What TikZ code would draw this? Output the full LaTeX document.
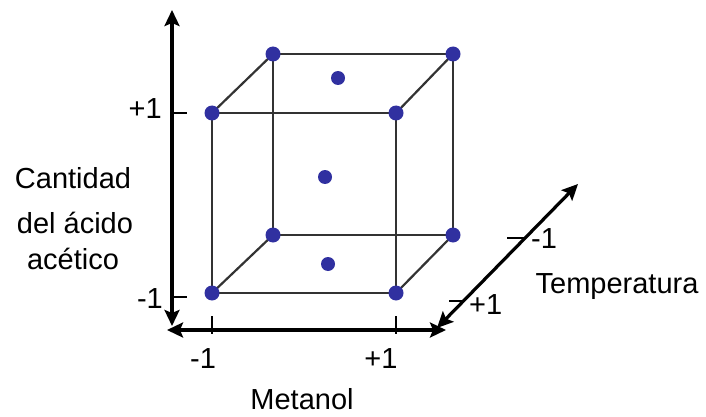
\documentclass[tikz,border=0pt]{standalone}
\usepackage{fontspec}
\setmainfont{Liberation Sans}
\usetikzlibrary{arrows.meta}
\definecolor{dotblue}{RGB}{48,48,160}
\begin{document}
\begin{tikzpicture}[x=1pt,y=-1pt,
  axis/.style={line width=3.2pt, {Stealth[length=16pt,width=15pt,inset=3pt]}-{Stealth[length=16pt,width=15pt,inset=3pt]}},
  tickmark/.style={line width=2.8pt},
  edge/.style={line width=2.2pt, draw=black!80},
  vdot/.style={circle, fill=dotblue, inner sep=0pt, minimum size=15pt},
  cdot/.style={circle, fill=dotblue, inner sep=0pt, minimum size=14pt},
  lbl/.style={font=\fontsize{29}{34}\selectfont, inner sep=0pt}
]
\useasboundingbox (0,0) rectangle (706,417);
% cube vertices
\coordinate (A1) at (212,113);
\coordinate (A2) at (396,113);
\coordinate (A3) at (212,293);
\coordinate (A4) at (396,293);
\coordinate (B1) at (273,54);
\coordinate (B2) at (453,54);
\coordinate (B3) at (273,235);
\coordinate (B4) at (453,235);
% cube edges
\draw[edge] (A1) -- (A2) -- (A4) -- (A3) -- cycle;
\draw[edge] (B1) -- (B2) -- (B4) -- (B3) -- cycle;
\draw[edge] (A1) -- (B1);
\draw[edge] (A2) -- (B2);
\draw[edge] (A3) -- (B3);
\draw[edge] (A4) -- (B4);
% vertex dots
\foreach \v in {A1,A2,A3,A4,B1,B2,B3,B4} \node[vdot] (d\v) at (\v) {};
% center dots
\node[cdot] (C1) at (338,78) {};
\node[cdot] (C2) at (325,177) {};
\node[cdot] (C3) at (328,264) {};
% axes
\coordinate (vtop) at (172,10);
\coordinate (vbot) at (172,326);
\coordinate (hleft) at (167,330);
\coordinate (hright) at (446,330);
\coordinate (tlow) at (437,328);
\coordinate (thigh) at (578,184);
\draw[axis] (vbot) -- (vtop);
\draw[axis] (hleft) -- (hright);
\draw[axis] (tlow) -- (thigh);
% ticks
\coordinate (vt1a) at (172,113); \coordinate (vt1b) at (187,113);
\coordinate (vt2a) at (172,297); \coordinate (vt2b) at (187,297);
\coordinate (ht1a) at (212,316); \coordinate (ht1b) at (212,334);
\coordinate (ht2a) at (396,316); \coordinate (ht2b) at (396,334);
\coordinate (tt1a) at (507,238); \coordinate (tt1b) at (526,238);
\coordinate (tt2a) at (449,301); \coordinate (tt2b) at (464,301);
\draw[tickmark] (vt1a) -- (vt1b);
\draw[tickmark] (vt2a) -- (vt2b);
\draw[tickmark] (ht1a) -- (ht1b);
\draw[tickmark] (ht2a) -- (ht2b);
\draw[tickmark] (tt1a) -- (tt1b);
\draw[tickmark] (tt2a) -- (tt2b);
% labels
\node[lbl, anchor=base east] (lp1) at (162,119) {+1};
\node[lbl, anchor=base east] (lm1) at (163,308) {-1};
\node[lbl, anchor=base] (bm1) at (203,368) {-1};
\node[lbl, anchor=base] (bp1) at (381,368) {+1};
\node[lbl, anchor=base] (met) at (302,409) {Metanol};
\node[lbl, anchor=base west] (tm1) at (531,248) {-1};
\node[lbl, anchor=base west] (tp1) at (469,314) {+1};
\node[lbl, anchor=base] (temp) at (617,293) {Temperatura};
\node[lbl, anchor=base] (q1) at (73,188) {Cantidad};
\node[lbl, anchor=base] (q2) at (75,233) {del ácido};
\node[lbl, anchor=base] (q3) at (73,269) {acético};
\end{tikzpicture}
\end{document}
